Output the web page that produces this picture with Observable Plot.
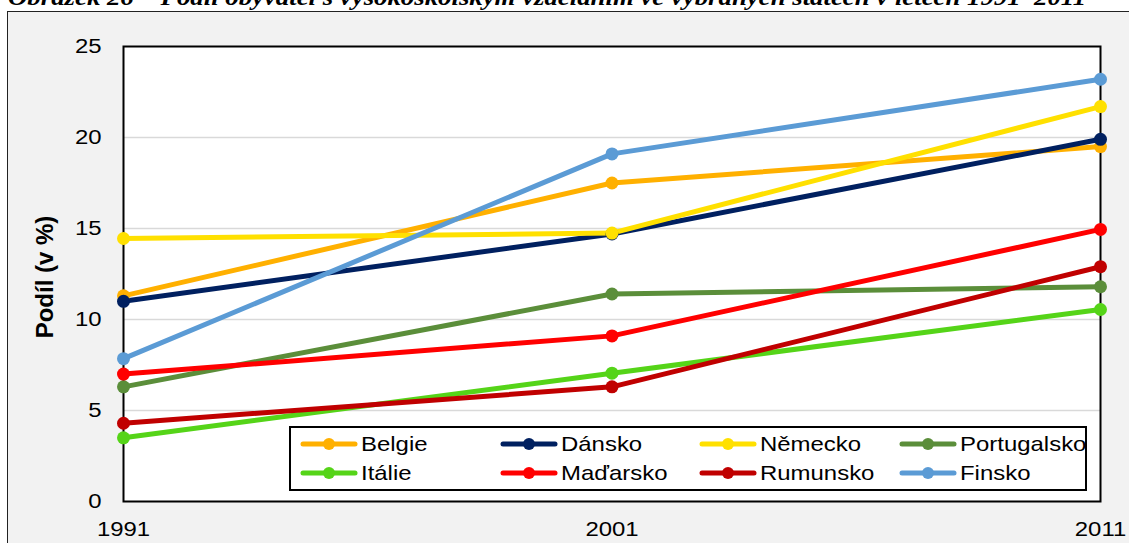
<!DOCTYPE html>
<html>
<head>
<meta charset="utf-8">
<script src="https://cdn.jsdelivr.net/npm/d3@7"></script>
<script src="https://cdn.jsdelivr.net/npm/@observablehq/plot@0.6"></script>
<style>
  html, body { margin: 0; padding: 0; width: 1129px; height: 543px; overflow: hidden; background: #ffffff; }
  #outer { position: absolute; left: 7px; top: 11px; width: 1200px; height: 600px; border: 1.5px solid #222; background: #f2f2f2; }
  #title { position: absolute; left: 8px; top: -14px; font-family: "Liberation Serif", "Times New Roman", serif; font-weight: bold; font-style: italic; font-size: 23.5px; line-height: 23.5px; white-space: nowrap; color: #000; transform: scaleX(1.14); transform-origin: left top; }
  #chart { position: absolute; left: 0; top: 0; }
  #legend { position: absolute; left: 289px; top: 426px; width: 794px; height: 61px; border: 2px solid #000; background: #fff; font-family: "Liberation Sans", Arial, sans-serif; font-size: 21px; color: #000; }
  .item { position: absolute; display: flex; align-items: center; height: 26px; white-space: nowrap; }
  .item svg { margin-right: 3px; }
  .item span { display: inline-block; transform: scaleX(1.14); transform-origin: left center; }
</style>
</head>
<body>
<div id="outer"></div>
<div id="title">Obrázek 26 – Podíl obyvatel s vysokoškolským vzděláním ve vybraných státech v letech 1991–2011</div>
<div id="chart"></div>
<div id="legend"></div>
<script>
const years = [1991, 2001, 2011];
const countries = ["Belgie", "Dánsko", "Německo", "Portugalsko", "Itálie", "Maďarsko", "Rumunsko", "Finsko"];
const colors = ["#FFB000", "#002060", "#FFE000", "#5B8E3A", "#55D418", "#FF0000", "#C00000", "#5B9BD5"];
const belgie = [11.3, 17.5, 19.5];
const dansko = [11.0, 14.7, 19.9];
const nemecko = [14.45, 14.75, 21.7];
const portugalsko = [6.3, 11.4, 11.8];
const italie = [3.5, 7.05, 10.55];
const madarsko = [7.0, 9.1, 14.95];
const rumunsko = [4.3, 6.3, 12.9];
const finsko = [7.85, 19.1, 23.2];
const yTicks = [0, 5, 10, 15, 20, 25];
const gridTicks = [5, 10, 15, 20];
const yLabel = "Podíl (v %)";

const seriesValues = [belgie, dansko, nemecko, portugalsko, italie, madarsko, rumunsko, finsko];
const rows = [];
countries.forEach((c, i) => {
  years.forEach((yr, j) => rows.push({country: c, year: yr, value: seriesValues[i][j]}));
});

const chart = Plot.plot({
  width: 1129,
  height: 543,
  marginLeft: 123,
  marginRight: 29,
  marginTop: 46,
  marginBottom: 42,
  style: {background: "transparent", fontFamily: "'Liberation Sans', Arial, sans-serif", fontSize: "21px", color: "#000", overflow: "visible"},
  x: {domain: [1991, 2011]},
  y: {domain: [0, 25]},
  color: {domain: countries, range: colors},
  marks: [
    Plot.frame({fill: "#ffffff"}),
    Plot.ruleY(gridTicks, {stroke: "#d9d9d9", strokeWidth: 1.5}),
    Plot.frame({stroke: "#000", strokeWidth: 2}),
    Plot.axisX({ticks: years, tickFormat: d => String(d), tickSize: 0, tickPadding: 20, label: null, fontSize: 21}),
    Plot.axisY({ticks: yTicks, tickSize: 0, tickPadding: 22, label: null, fontSize: 21}),
    Plot.text([yLabel], {frameAnchor: "left", dx: -78, dy: 3, rotate: -90, textAnchor: "middle", fontWeight: "bold", fontSize: 24, text: d => d}),
    Plot.line(rows, {x: "year", y: "value", z: "country", stroke: "country", strokeWidth: 5, strokeLinecap: "round", strokeLinejoin: "round"}),
    Plot.dot(rows, {x: "year", y: "value", fill: "country", r: 6.5})
  ]
});
// widen tick label glyphs horizontally, as in the reference
chart.querySelectorAll("text").forEach(t => {
  if (t.textContent === yLabel) return;
  const tr = t.getAttribute("transform");
  if (tr) t.setAttribute("transform", tr + " scale(1.14,1)");
  else t.setAttribute("transform", "scale(1.14,1)");
});
document.getElementById("chart").appendChild(chart);

const legend = document.getElementById("legend");
countries.forEach((c, i) => {
  const col = i % 4, row = Math.floor(i / 4);
  const item = document.createElement("div");
  item.className = "item";
  item.style.left = (9 + col * 199.5) + "px";
  item.style.top = (3 + row * 29) + "px";
  item.innerHTML = `<svg width="58" height="16"><line x1="3" y1="8" x2="55" y2="8" stroke="${colors[i]}" stroke-width="5" stroke-linecap="round"/><circle cx="29" cy="8" r="6" fill="${colors[i]}"/></svg><span>${c}</span>`;
  legend.appendChild(item);
});
</script>
</body>
</html>
